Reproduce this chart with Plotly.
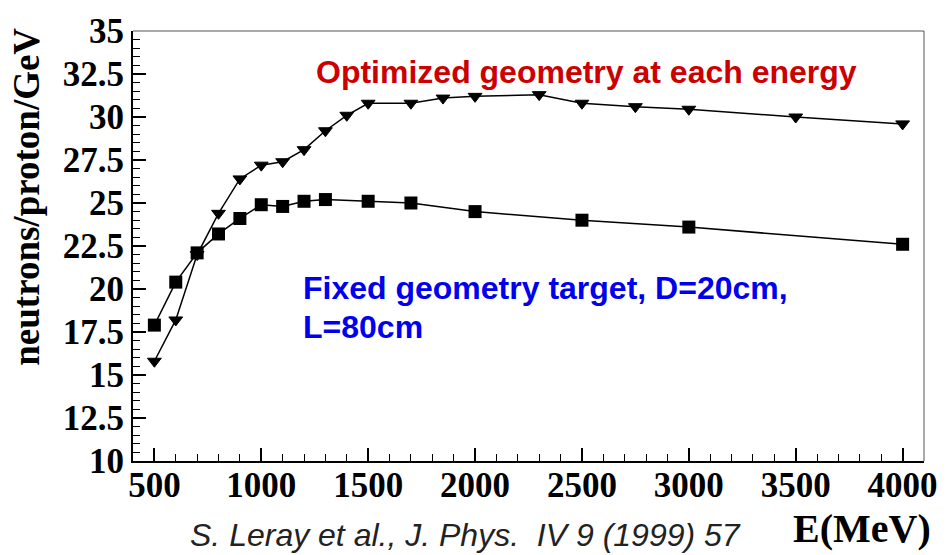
import plotly.graph_objects as go

# Beam energy (MeV) and neutron yield (neutrons / proton / GeV)
energy_fixed = [500, 600, 700, 800, 900, 1000, 1100, 1200, 1300, 1500, 1700,
                2000, 2500, 3000, 4000]
yield_fixed = [17.9, 20.4, 22.1, 23.2, 24.1, 24.9, 24.8, 25.1, 25.2, 25.1, 25.0,
               24.5, 24.0, 23.6, 22.6]

energy_opt = [500, 600, 700, 800, 900, 1000, 1100, 1200, 1300, 1400, 1500, 1700,
              1850, 2000, 2300, 2500, 2750, 3000, 3500, 4000]
yield_opt = [15.8, 18.2, 22.0, 24.4, 26.4, 27.2, 27.4, 28.1, 29.2, 30.1, 30.8, 30.8,
             31.1, 31.2, 31.3, 30.8, 30.6, 30.45, 30.0, 29.6]

x_ticks = [500, 1000, 1500, 2000, 2500, 3000, 3500, 4000]
y_ticks = [10, 12.5, 15, 17.5, 20, 22.5, 25, 27.5, 30, 32.5, 35]

W, H = 949, 555
L, R, T, B = 133, 17, 25, 94
PW, PH = W - L - R, H - T - B


def px(xp):
    return (xp - L) / PW


def py(yp):
    return (H - B - yp) / PH


SERIF = "Liberation Serif, Times New Roman, serif"
SANS = "Liberation Sans, Arial, sans-serif"

fig = go.Figure()

fig.add_trace(go.Scatter(
    x=energy_fixed, y=yield_fixed, mode="lines+markers",
    line=dict(color="black", width=1.5),
    marker=dict(symbol="square", size=13, color="black"),
    showlegend=False,
))
fig.add_trace(go.Scatter(
    x=energy_opt, y=yield_opt, mode="lines+markers",
    line=dict(color="black", width=1.5),
    marker=dict(symbol="triangle-down", size=12, color="black",
                line=dict(color="black", width=1)),
    showlegend=False,
))

tick_font = dict(family=SERIF, size=35, color="black", weight="bold")

fig.update_xaxes(
    range=[400, 4100], tickvals=x_ticks, ticktext=[str(v) for v in x_ticks],
    showgrid=False, zeroline=False,
    showline=True, linecolor="black", linewidth=2,
    ticks="inside", ticklen=13, tickwidth=1.5, tickcolor="black",
    minor=dict(dtick=100, tick0=0, ticks="inside", ticklen=7, tickwidth=1.2,
               tickcolor="black", showgrid=False),
    tickfont=tick_font, ticklabelstandoff=-8,
)
fig.update_yaxes(
    range=[10, 35], tickvals=y_ticks, ticktext=[f"{v:g}" for v in y_ticks],
    showgrid=False, zeroline=False,
    showline=True, linecolor="black", linewidth=2,
    ticks="inside", ticklen=13, tickwidth=1.5, tickcolor="black",
    minor=dict(dtick=0.5, tick0=0, ticks="inside", ticklen=7, tickwidth=1.2,
               tickcolor="black", showgrid=False),
    tickfont=tick_font,
)

# thin frame on the top and right sides
fig.add_shape(type="line", xref="paper", yref="paper", x0=0, x1=1, y0=1, y1=1,
              line=dict(color="#555555", width=1))
fig.add_shape(type="line", xref="paper", yref="paper", x0=1, x1=1, y0=0, y1=1,
              line=dict(color="#555555", width=1))

annotations = [
    dict(text="Optimized geometry at each energy", x=px(316), y=py(66.5),
         xanchor="left", yanchor="middle",
         font=dict(family=SANS, size=32, color="#cc0000", weight="bold")),
    dict(text="Fixed geometry target, D=20cm,", x=px(303), y=py(286),
         xanchor="left", yanchor="middle",
         font=dict(family=SANS, size=32, color="#0000ee", weight="bold")),
    dict(text="L=80cm", x=px(303), y=py(325),
         xanchor="left", yanchor="middle",
         font=dict(family=SANS, size=32, color="#0000ee", weight="bold")),
    dict(text="S. Leray et al., J. Phys.  IV 9 (1999) 57", x=px(189), y=py(536),
         xanchor="left", yanchor="middle",
         font=dict(family=SANS, size=32, color="#222222", style="italic")),
    dict(text="E(MeV)", x=px(932), y=py(529.5), xshift=9,
         xanchor="right", yanchor="middle",
         font=dict(family=SERIF, size=40, color="black", weight="bold")),
    dict(text="neutrons/proton/GeV", x=px(26), y=py(193), textangle=-90,
         xanchor="center", yanchor="middle",
         font=dict(family=SERIF, size=37, color="black", weight="bold")),
]
for a in annotations:
    fig.add_annotation(xref="paper", yref="paper", showarrow=False, **a)

fig.update_layout(
    width=W, height=H, autosize=False,
    margin=dict(l=L, r=R, t=T, b=B, pad=0),
    paper_bgcolor="white", plot_bgcolor="white",
)

fig.write_html("out.html")
